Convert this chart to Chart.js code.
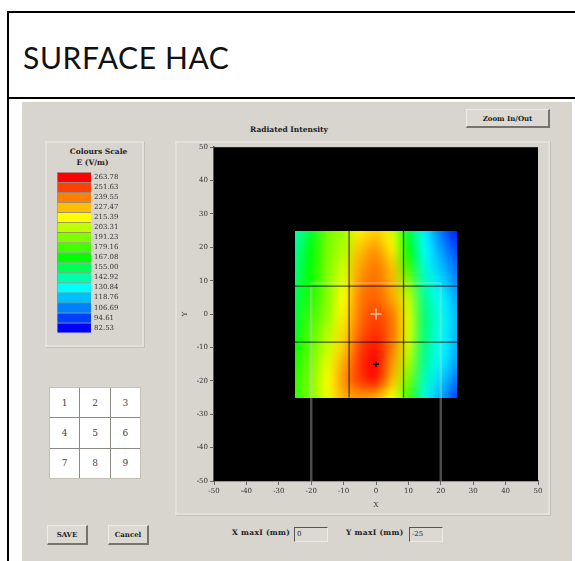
<!DOCTYPE html>
<html lang="en">
<head>
<meta charset="UTF-8">
<title>SURFACE HAC</title>
<script src="https://cdn.jsdelivr.net/npm/chart.js"></script>
<style>
    body { margin: 0; background: #fff; width: 575px; height: 561px; overflow: hidden; position: relative; font-family: 'DejaVu Serif', serif; }
    .frame-top { position: absolute; left: 7px; top: 11px; width: 568px; height: 2px; background: #000; }
    .frame-mid { position: absolute; left: 7px; top: 97px; width: 568px; height: 2px; background: #000; }
    .frame-left { position: absolute; left: 7px; top: 11px; width: 2px; height: 550px; background: #000; }
    h1 { position: absolute; left: 23px; top: 39px; margin: 0; font: 400 30px/36px Lato, sans-serif; letter-spacing: 0.6px; color: #111; }
    #panel { position: absolute; left: 22px; top: 102px; width: 550px; height: 459px; background: #d8d4ce; filter: blur(0.6px); color: #222; font-size: 7.5px; }
    .abs { position: absolute; white-space: nowrap; }
    .box { position: absolute; border: 2px solid #e4e1dc; box-sizing: border-box; box-shadow: 1px 1px 0 #c4c0b8; }
    .btn { position: absolute; box-sizing: border-box; background: #dcd8d2; border: 1px solid #eeeae6; border-right: 2px solid #77736d; border-bottom: 2px solid #77736d; text-align: center; font-size: 7px; font-weight: bold; display: flex; align-items: center; justify-content: center; }
    .field { position: absolute; box-sizing: border-box; height: 15px; width: 34px; background: #dcd8d2; border: 1px solid #eeeae6; border-top: 1px solid #555; border-left: 1px solid #555; font-size: 7px; line-height: 13px; padding-left: 2px; }
    #pad { position: absolute; left: 27px; top: 285px; width: 92px; height: 92px; display: grid; grid-template-columns: repeat(3, 1fr); grid-template-rows: repeat(3, 1fr); gap: 1px; background: #8d8a85; border: 1px solid #c4c0b8; box-sizing: border-box; }
    #pad div { background: #fff; display: flex; align-items: center; justify-content: center; font-size: 9px; color: #444; }
    canvas { position: absolute; }
</style>
</head>
<body>
<div class="frame-top"></div>
<div class="frame-mid"></div>
<div class="frame-left"></div>
<h1>SURFACE HAC</h1>

<div id="panel">
    <div class="box" style="left:23px;top:39px;width:99px;height:206px"></div>
    <div class="abs" style="left:23px;top:45px;width:107px;text-align:center;font-weight:bold">Colours Scale</div>
    <div class="abs" style="left:23px;top:56px;width:95px;text-align:center;font-weight:bold">E (V/m)</div>
    <div style="position:absolute;left:28px;top:63px;width:90px;height:175px"><canvas id="scaleChart"></canvas></div>

    <div id="pad"></div>

    <div class="btn" style="left:25px;top:423px;width:41px;height:20px">SAVE</div>
    <div class="btn" style="left:86px;top:423px;width:41px;height:20px">Cancel</div>
    <div class="btn" style="left:444px;top:7px;width:84px;height:19px">Zoom In/Out</div>

    <div class="abs" style="left:228px;top:23px;font-weight:bold">Radiated Intensity</div>
    <div class="box" style="left:153px;top:39px;width:375px;height:374px"></div>
    <div style="position:absolute;left:158px;top:39px;width:370px;height:369px"><canvas id="mapChart"></canvas></div>

    <div class="abs" style="left:210px;top:426px;font-weight:bold;letter-spacing:0.3px">X maxI (mm)</div>
    <div class="field" style="left:272px;top:425px">0</div>
    <div class="abs" style="left:324px;top:426px;font-weight:bold;letter-spacing:0.3px">Y maxI (mm)</div>
    <div class="field" style="left:387px;top:425px">-25</div>
</div>

<script>
    // Colour scale, top to bottom
    const scaleLevels = ['263.78', '251.63', '239.55', '227.47', '215.39', '203.31', '191.23', '179.16',
        '167.08', '155.00', '142.92', '130.84', '118.76', '106.69', '94.61', '82.53'];
    const scaleColors = ['#ff0000', '#ff4000', '#ff8000', '#ffbf00', '#ffff00', '#bfff00', '#80ff00', '#40ff00',
        '#00ff00', '#00ff55', '#00ffaa', '#00ffff', '#00bfff', '#0080ff', '#0040ff', '#0000ff'];
    const scaleBars = [1, 1, 1, 1, 1, 1, 1, 1, 1, 1, 1, 1, 1, 1, 1, 1];

    // Axis ticks (mm)
    const axisTicks = [-50, -40, -30, -20, -10, 0, 10, 20, 30, 40, 50];

    // Intensity (V/m), x = -25..25 across, y = 25..-25 down, every 5 mm
    const mapX = [-25, -20, -15, -10, -5, 0, 5, 10, 15, 20, 25];
    const mapY = [25, 20, 15, 10, 5, 0, -5, -10, -15, -20, -25];
    const mapValues = [
        [142, 160, 188, 198, 218, 224, 208, 158, 128, 105, 88],
        [146, 165, 190, 200, 226, 234, 218, 165, 132, 112, 95],
        [150, 168, 191, 205, 232, 240, 226, 175, 136, 118, 102],
        [153, 170, 192, 210, 236, 243, 230, 190, 140, 124, 108],
        [156, 173, 193, 215, 240, 245, 232, 203, 146, 130, 114],
        [159, 178, 195, 218, 242, 251, 240, 208, 150, 133, 118],
        [163, 182, 200, 222, 245, 254, 242, 208, 150, 133, 118],
        [168, 186, 205, 225, 251, 260, 240, 205, 148, 131, 116],
        [172, 190, 210, 232, 254, 263, 235, 198, 145, 128, 112],
        [175, 192, 214, 236, 252, 258, 228, 188, 140, 122, 104],
        [175, 192, 212, 230, 235, 230, 215, 178, 135, 115, 94]
    ];

    // Overlay lines and markers
    const dividerX = [-8.3, 8.5];
    const dividerY = [8.4, -8.4];
    const sensorX = [-20, 20];
    const sensorTopY = 9.3;
    const mapEdge = 25;
    const axisEdge = 50;
    const centreMark = [{ x: 0, y: 0 }];
    const peakMark = [{ x: 0, y: -15 }];

    const padKeys = ['1', '2', '3', '4', '5', '6', '7', '8', '9'];
    document.getElementById('pad').innerHTML = padKeys.map(k => '<div>' + k + '</div>').join('');

    const tickFont = { family: "'DejaVu Serif', serif", size: 7 };
    const tickColor = '#333';

    function hexToRgb(hex) {
        return [1, 3, 5].map(i => parseInt(hex.substr(i, 2), 16));
    }

    // Piecewise colour between the scale's own levels
    function colorFor(v) {
        const levels = scaleLevels.map(Number);
        for (let i = 1; i < levels.length; i++) {
            if (v >= levels[i]) {
                const t = (v - levels[i]) / (levels[i - 1] - levels[i]);
                const a = hexToRgb(scaleColors[i]);
                const b = hexToRgb(scaleColors[i - 1]);
                return a.map((c, k) => Math.round(c + (b[k] - c) * Math.min(t, 1)));
            }
        }
        return hexToRgb(scaleColors[scaleColors.length - 1]);
    }

    // Black plot background, then the smooth intensity map placed by the scales
    const heatmapPlugin = {
        id: 'heatmap',
        beforeDatasetsDraw(chart) {
            const { ctx, chartArea, scales } = chart;
            ctx.save();
            ctx.fillStyle = '#000';
            ctx.fillRect(chartArea.left, chartArea.top, chartArea.width, chartArea.height);

            const off = document.createElement('canvas');
            off.width = mapX.length;
            off.height = mapY.length;
            const octx = off.getContext('2d');
            const img = octx.createImageData(off.width, off.height);
            mapValues.forEach((row, r) => row.forEach((v, c) => {
                const rgb = colorFor(v);
                const p = (r * off.width + c) * 4;
                img.data[p] = rgb[0];
                img.data[p + 1] = rgb[1];
                img.data[p + 2] = rgb[2];
                img.data[p + 3] = 255;
            }));
            octx.putImageData(img, 0, 0);

            const x0 = scales.x.getPixelForValue(mapX[0]);
            const x1 = scales.x.getPixelForValue(mapX[mapX.length - 1]);
            const y0 = scales.y.getPixelForValue(mapY[0]);
            const y1 = scales.y.getPixelForValue(mapY[mapY.length - 1]);
            ctx.imageSmoothingEnabled = true;
            ctx.imageSmoothingQuality = 'high';
            ctx.drawImage(off, 0.5, 0.5, off.width - 1, off.height - 1, x0, y0, x1 - x0, y1 - y0);
            ctx.restore();
        }
    };

    function lineSet(points, color, width) {
        return { data: points, showLine: true, borderColor: color, borderWidth: width, pointRadius: 0 };
    }

    const mapDatasets = [
        { data: centreMark, pointStyle: 'cross', pointRadius: 5.5, pointBorderColor: 'rgba(255,215,200,0.85)', pointBorderWidth: 1.5, showLine: false },
        { data: peakMark, pointStyle: 'cross', pointRadius: 3, pointBorderColor: '#200000', pointBorderWidth: 1.5, showLine: false }
    ];
    dividerX.forEach(x => mapDatasets.push(lineSet([{ x: x, y: mapEdge }, { x: x, y: -mapEdge }], 'rgba(0,0,0,0.65)', 1.3)));
    dividerY.forEach(y => mapDatasets.push(lineSet([{ x: -mapEdge, y: y }, { x: mapEdge, y: y }], 'rgba(0,0,0,0.65)', 1.3)));
    sensorX.forEach(x => mapDatasets.push(lineSet([{ x: x, y: sensorTopY }, { x: x, y: -axisEdge }], 'rgba(200,200,200,0.38)', 2.5)));
    mapDatasets.push(lineSet([{ x: sensorX[0], y: sensorTopY }, { x: sensorX[1], y: sensorTopY }], 'rgba(220,220,220,0.35)', 1.5));

    function axisOptions(titleText, fitFn) {
        return {
            type: 'linear',
            min: -axisEdge,
            max: axisEdge,
            afterBuildTicks(scale) { scale.ticks = axisTicks.map(v => ({ value: v })); },
            afterFit: fitFn,
            title: { display: true, text: titleText, color: tickColor, font: tickFont, padding: 1 },
            border: { color: '#555', width: 1.5 },
            grid: { drawOnChartArea: false, drawTicks: true, tickLength: 4, color: '#666' },
            ticks: { color: tickColor, font: tickFont, padding: 2, maxRotation: 0, autoSkip: false }
        };
    }

    new Chart(document.getElementById('mapChart'), {
        type: 'scatter',
        data: { datasets: mapDatasets },
        plugins: [heatmapPlugin],
        options: {
            responsive: true,
            maintainAspectRatio: false,
            animation: false,
            layout: { autoPadding: false, padding: { top: 6, right: 12, left: 0, bottom: 0 } },
            plugins: { legend: { display: false }, tooltip: { enabled: false } },
            scales: {
                x: axisOptions('X', s => { s.height = 29; }),
                y: axisOptions('Y', s => { s.width = 34; })
            }
        }
    });

    new Chart(document.getElementById('scaleChart'), {
        type: 'bar',
        data: {
            labels: scaleLevels,
            datasets: [{
                data: scaleBars,
                backgroundColor: scaleColors,
                borderColor: 'rgba(70,70,50,0.45)',
                borderWidth: { top: 1, bottom: 0, left: 1, right: 0 },
                borderSkipped: false,
                barPercentage: 1,
                categoryPercentage: 1
            }]
        },
        options: {
            indexAxis: 'y',
            responsive: true,
            maintainAspectRatio: false,
            animation: false,
            layout: { autoPadding: false, padding: { top: 7, bottom: 7, left: 7, right: 0 } },
            plugins: { legend: { display: false }, tooltip: { enabled: false } },
            scales: {
                x: { display: false, min: 0, max: 1 },
                y: {
                    position: 'right',
                    afterFit(s) { s.width = 49; },
                    border: { display: false },
                    grid: { display: false, drawTicks: false, tickLength: 0 },
                    ticks: { color: tickColor, font: tickFont, padding: 3, autoSkip: false, crossAlign: 'near' }
                }
            }
        }
    });
</script>
</body>
</html>
